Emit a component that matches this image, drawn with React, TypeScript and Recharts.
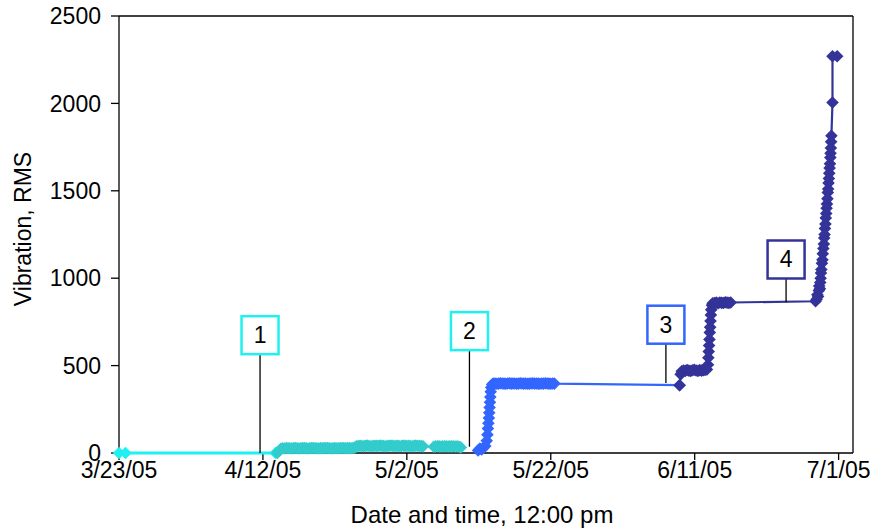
import React from 'react';
import { LineChart, Line, XAxis, YAxis, ReferenceLine, ReferenceDot } from 'recharts';

// [days after 3/23/05 12:00 pm, vibration RMS]
type Reading = [number, number];

const tickDays = [0, 20, 40, 60, 80, 100];
const tickLabels = ['3/23/05', '4/12/05', '5/2/05', '5/22/05', '6/11/05', '7/1/05'];
const rmsTicks = [0, 500, 1000, 1500, 2000, 2500];

const stage1: Reading[] = [[0, 0], [0.9, 0], [21.75, 0]];

const stage2: Reading[] = [
  [22.0, 0], [22.25, 12], [22.5, 24], [22.75, 27], [23.0, 26], [23.25, 28], [23.5, 27], [23.75, 27],
  [24.0, 26], [24.25, 28], [24.5, 29], [24.75, 27], [25.0, 26], [25.25, 27], [25.5, 28], [25.75, 28],
  [26.0, 27], [26.25, 26], [26.5, 27], [26.75, 29], [27.0, 28], [27.25, 27], [27.5, 27], [27.75, 26],
  [28.0, 28], [28.25, 27], [28.5, 28], [28.75, 29], [29.0, 28], [29.25, 27], [29.5, 26], [29.75, 27],
  [30.0, 28], [30.25, 27], [30.5, 27], [30.75, 28], [31.0, 29], [31.25, 28], [31.5, 27], [31.75, 28],
  [32.0, 28], [32.25, 27], [32.5, 29], [32.75, 31],
  [33.0, 38], [33.25, 40], [33.5, 41], [33.75, 40], [34.0, 39], [34.25, 41], [34.5, 42], [34.75, 40],
  [35.0, 39], [35.25, 40], [35.5, 41], [35.75, 41], [36.0, 40], [36.25, 42], [36.5, 41], [36.75, 40],
  [37.0, 39], [37.25, 40], [37.5, 41], [37.75, 42], [38.0, 41], [38.25, 40], [38.5, 40], [38.75, 41],
  [39.0, 39], [39.25, 40], [39.5, 42], [39.75, 41], [40.0, 40], [40.25, 41], [40.5, 40], [40.75, 39],
  [41.0, 41], [41.25, 42], [41.5, 40], [41.75, 41], [42.0, 40], [42.25, 38],
  [43.75, 36], [44.0, 38], [44.25, 39], [44.5, 38], [44.75, 37], [45.0, 38], [45.25, 39], [45.5, 38],
  [45.75, 37], [46.0, 38], [46.25, 38], [46.5, 39], [46.75, 37], [47.0, 38], [47.25, 36], [47.5, 32],
];

const stage3: Reading[] = [
  [49.9, 15], [50.15, 25], [50.4, 20], [50.65, 30], [50.9, 40], [51.1, 70], [51.2, 105], [51.27, 140],
  [51.33, 170], [51.4, 200], [51.45, 230], [51.5, 260], [51.55, 290], [51.6, 320], [51.65, 350],
  [51.72, 375], [51.85, 392],
  [52.0, 397], [52.25, 398], [52.5, 396], [52.75, 397], [53.0, 399], [53.25, 398], [53.5, 397], [53.75, 396],
  [54.0, 398], [54.25, 399], [54.5, 397], [54.75, 398], [55.0, 398], [55.25, 396], [55.5, 397], [55.75, 399],
  [56.0, 398], [56.25, 397], [56.5, 398], [56.75, 396], [57.0, 397], [57.25, 398], [57.5, 399], [57.75, 397],
  [58.0, 398], [58.25, 397], [58.5, 396], [58.75, 398], [59.0, 397], [59.25, 399], [59.5, 398], [59.75, 397],
  [60.0, 396], [60.25, 398], [60.5, 397],
  [77.9, 388],
];

const stage4: Reading[] = [
  [77.9, 388], [78.05, 450], [78.2, 468], [78.45, 472], [78.7, 470], [78.95, 475], [79.2, 471], [79.45, 469],
  [79.7, 473], [79.95, 476], [80.2, 472], [80.45, 470], [80.7, 474], [80.95, 471], [81.2, 473], [81.45, 475],
  [81.7, 478],
  [81.85, 505], [81.9, 545], [81.95, 580], [82.0, 615], [82.05, 650], [82.1, 690], [82.15, 720], [82.2, 755],
  [82.25, 790], [82.3, 820], [82.4, 845], [82.5, 856],
  [82.75, 858], [83.0, 860], [83.25, 857], [83.5, 861], [83.75, 859], [84.0, 858], [84.25, 862], [84.5, 860],
  [84.75, 859], [85.0, 861],
  [96.8, 868],
  [96.95, 880], [97.05, 905], [97.15, 895], [97.25, 930], [97.3, 955], [97.4, 940], [97.45, 975], [97.5, 1000],
  [97.55, 1030], [97.6, 1050], [97.68, 1085], [97.75, 1105], [97.8, 1140], [97.88, 1170], [97.95, 1195],
  [98.0, 1230], [98.05, 1250], [98.1, 1285], [98.17, 1310], [98.22, 1345], [98.28, 1370], [98.33, 1400],
  [98.38, 1425], [98.45, 1455], [98.5, 1490], [98.55, 1510], [98.6, 1545], [98.65, 1570], [98.7, 1600],
  [98.75, 1630], [98.8, 1655], [98.85, 1690], [98.88, 1715], [98.92, 1745], [98.96, 1780], [99.0, 1815],
  [99.15, 2005], [99.15, 2270], [99.8, 2270],
];

// numbered stage markers: where the leader touches the trace, and where the box sits
const calloutLabels = ['1', '2', '3', '4'];
const calloutDays = [19.6, 48.7, 76.0, 92.7];
const calloutRms = [0, 36, 400, 862];
const calloutBoxRms = [674, 697, 734, 1107];

const COLORS = ['#1ff0f0', '#33cccc', '#3366ff', '#333399'];
const BOX_COLORS = ['#1ff0f0', '#1ff0f0', '#3366ff', '#333399'];
const LINE_WIDTHS = [3, 2.2, 2.2, 2.2];
const FONT = '"Liberation Sans", Arial, sans-serif';

const stages = [stage1, stage2, stage3, stage4];

const toRows = (pts: Reading[]) => pts.map(([day, rms]) => ({ day, rms }));

const diamond = (color: string) => (props: any) => {
  const { cx, cy, index } = props;
  if (cx == null || cy == null) return <g key={`d-${index}`} />;
  const r = 6.3;
  return (
    <path
      key={`d-${index}`}
      d={`M${cx} ${cy - r}L${cx + r} ${cy}L${cx} ${cy + r}L${cx - r} ${cy}Z`}
      fill={color}
    />
  );
};

const calloutBox = (label: string, color: string) => (props: any) => {
  const { cx, cy } = props;
  return (
    <g>
      <rect x={cx - 18.5} y={cy - 19} width={37} height={38} fill="#fff" stroke={color} strokeWidth={2.5} />
      <text x={cx} y={cy + 8} textAnchor="middle" fontSize={23} fontFamily={FONT} fill="#000">
        {label}
      </text>
    </g>
  );
};

const XTitle = () => (
  <text x={482} y={523} textAnchor="middle" fontSize={24} fontFamily={FONT} fill="#000">
    Date and time, 12:00 pm
  </text>
);

const YTitle = () => (
  <text x={31} y={229} transform="rotate(-90, 31, 229)" textAnchor="middle" fontSize={23} fontFamily={FONT} fill="#000">
    Vibration, RMS
  </text>
);

const App: React.FC = () => {
  // traces sit above the axis lines, the boxes above everything
  const lineProps: any = { zIndex: 550 };
  const leaderProps: any = { zIndex: 600 };
  const boxProps: any = { zIndex: 700 };
  return (
    <div style={{ position: 'absolute', left: 0, top: 0, width: 876, height: 529, background: '#fff' }}>
      <LineChart width={876} height={529} margin={{ top: 16, right: 23, bottom: 0, left: 0 }}>
        <XAxis
          type="number"
          dataKey="day"
          domain={[0, 102]}
          ticks={tickDays}
          interval={0}
          tickFormatter={(d: number) => tickLabels[tickDays.indexOf(d)]}
          height={76}
          tickSize={7}
          tickMargin={2}
          tick={{ fontSize: 23, fill: '#000', fontFamily: FONT }}
          axisLine={{ stroke: '#000', strokeWidth: 1.3 }}
          tickLine={{ stroke: '#000', strokeWidth: 1.3 }}
          label={() => <XTitle />}
        />
        <YAxis
          type="number"
          dataKey="rms"
          domain={[0, 2500]}
          ticks={rmsTicks}
          interval={0}
          width={119}
          tickSize={8}
          tickMargin={10}
          tick={{ fontSize: 23, fill: '#000', fontFamily: FONT }}
          axisLine={{ stroke: '#000', strokeWidth: 1.3 }}
          tickLine={{ stroke: '#000', strokeWidth: 1.3 }}
          label={() => <YTitle />}
        />
        {/* top and right edges of the plot frame */}
        <ReferenceLine segment={[{ x: 0, y: 2500 }, { x: 102, y: 2500 }]} stroke="#000" strokeWidth={1.3} />
        <ReferenceLine segment={[{ x: 102, y: 0 }, { x: 102, y: 2500 }]} stroke="#000" strokeWidth={1.3} />
        {stages.map((pts, i) => (
          <Line
            key={`stage-${i}`}
            {...lineProps}
            data={toRows(pts)}
            dataKey="rms"
            type="linear"
            stroke={COLORS[i]}
            strokeWidth={LINE_WIDTHS[i]}
            dot={diamond(COLORS[i])}
            activeDot={false}
            isAnimationActive={false}
          />
        ))}
        {calloutLabels.map((label, i) => (
          <ReferenceLine
            key={`lead-${i}`}
            {...leaderProps}
            segment={[
              { x: calloutDays[i], y: calloutRms[i] },
              { x: calloutDays[i], y: calloutBoxRms[i] },
            ]}
            stroke="#000"
            strokeWidth={1.3}
          />
        ))}
        {calloutLabels.map((label, i) => (
          <ReferenceDot
            key={`box-${i}`}
            {...boxProps}
            x={calloutDays[i]}
            y={calloutBoxRms[i]}
            r={0}
            shape={calloutBox(label, BOX_COLORS[i])}
          />
        ))}
      </LineChart>
    </div>
  );
};

export default App;
